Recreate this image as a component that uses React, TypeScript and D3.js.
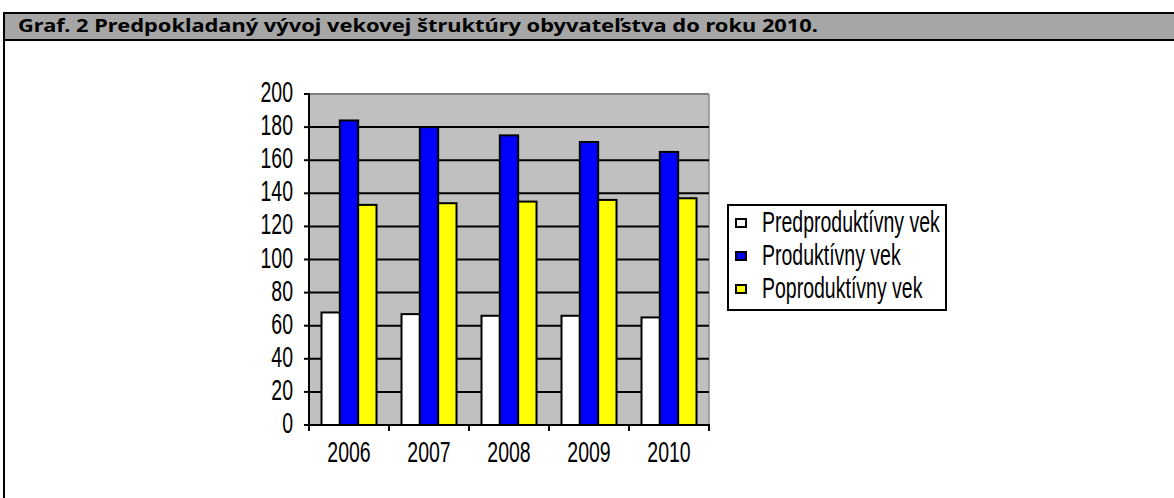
import React from 'react';
import * as d3 from 'd3';

const years = ['2006', '2007', '2008', '2009', '2010'];
const seriesNames = ['Predproduktívny vek', 'Produktívny vek', 'Poproduktívny vek'];
const seriesColors = ['#ffffff', '#0000ff', '#ffff00'];
const predproduktivny = [68, 67, 66, 66, 65];
const produktivny = [184, 180, 175, 171, 165];
const poproduktivny = [133, 134, 135, 136, 137];
const yTicks = [0, 20, 40, 60, 80, 100, 120, 140, 160, 180, 200];
const title = 'Graf. 2 Predpokladaný vývoj vekovej štruktúry obyvateľstva do roku 2010.';

const W = 1174;
const H = 498;
const plot = { left: 309, right: 709, top: 94, bottom: 425 };
const narrow = 0.65; // the original labels are horizontally squeezed

const App: React.FC = () => {
  const values = [predproduktivny, produktivny, poproduktivny];

  const x0 = d3.scaleBand<string>()
    .domain(years)
    .range([plot.left, plot.right])
    .paddingInner(0.3125)
    .paddingOuter(0.15625);

  const x1 = d3.scaleBand<number>()
    .domain([0, 1, 2])
    .range([0, x0.bandwidth()]);

  const y = d3.scaleLinear()
    .domain([0, 200])
    .range([plot.bottom, plot.top]);

  const labelFont = "'Liberation Sans', Arial, sans-serif";

  // category boundaries for the x-axis ticks
  const xTickPos = d3.range(years.length + 1).map(i => plot.left + i * x0.step());

  return (
    <svg width={W} height={H} style={{ position: 'absolute', left: 0, top: 0, background: '#fff' }}>
      {/* header bar */}
      <rect x={4} y={13} width={W} height={27} fill="#a6a6a6" />
      <line x1={3} y1={13} x2={W} y2={13} stroke="#000" strokeWidth={2} />
      <line x1={3} y1={40} x2={W} y2={40} stroke="#000" strokeWidth={2} />
      <line x1={4} y1={12} x2={4} y2={H} stroke="#000" strokeWidth={2} />
      <text
        x={18}
        y={31.5}
        fontFamily="'Noto Sans', 'DejaVu Sans', sans-serif"
        fontWeight="bold"
        fontSize={18}
        textLength={800}
        lengthAdjust="spacingAndGlyphs"
        fill="#000"
      >
        {title}
      </text>

      {/* plot area */}
      <rect x={plot.left} y={plot.top} width={plot.right - plot.left} height={plot.bottom - plot.top} fill="#c0c0c0" />
      <line x1={plot.left} y1={plot.top} x2={plot.right} y2={plot.top} stroke="#808080" strokeWidth={2} />
      <line x1={plot.right} y1={plot.top} x2={plot.right} y2={plot.bottom} stroke="#909090" strokeWidth={1.5} />

      {/* gridlines */}
      {yTicks.filter(t => t > 0 && t < 200).map(t => (
        <line key={t} x1={plot.left} x2={plot.right} y1={y(t)} y2={y(t)} stroke="#000" strokeWidth={2} />
      ))}

      {/* bars */}
      {years.map((yr, i) => (
        <g key={yr} transform={`translate(${x0(yr)},0)`}>
          {values.map((s, k) => (
            <rect
              key={k}
              x={x1(k)}
              y={y(s[i])}
              width={x1.bandwidth()}
              height={y(0) - y(s[i])}
              fill={seriesColors[k]}
              stroke="#000"
              strokeWidth={2}
            />
          ))}
        </g>
      ))}

      {/* y axis */}
      <line x1={plot.left} x2={plot.left} y1={plot.top - 1} y2={plot.bottom + 1} stroke="#000" strokeWidth={2} />
      {yTicks.map(t => (
        <g key={t}>
          <line x1={plot.left - 5} x2={plot.left} y1={y(t)} y2={y(t)} stroke="#000" strokeWidth={2} />
          <text
            transform={`translate(293,${y(t) + 8}) scale(${narrow},1)`}
            textAnchor="end"
            fontFamily={labelFont}
            fontSize={30}
            fill="#000"
          >
            {t}
          </text>
        </g>
      ))}

      {/* x axis */}
      <line x1={plot.left - 5} x2={plot.right + 1} y1={plot.bottom} y2={plot.bottom} stroke="#000" strokeWidth={2} />
      {xTickPos.map((px, i) => (
        <line key={i} x1={px} x2={px} y1={plot.bottom} y2={plot.bottom + 6} stroke="#000" strokeWidth={2} />
      ))}
      {years.map(yr => (
        <text
          key={yr}
          transform={`translate(${(x0(yr) ?? 0) + x0.bandwidth() / 2},462) scale(${narrow},1)`}
          textAnchor="middle"
          fontFamily={labelFont}
          fontSize={30}
          fill="#000"
        >
          {yr}
        </text>
      ))}

      {/* legend */}
      <rect x={728} y={205} width={218} height={105} fill="#fff" stroke="#000" strokeWidth={2} />
      {seriesNames.map((name, k) => {
        const base = 232 + k * 33;
        return (
          <g key={name}>
            <rect x={736} y={base - 13} width={10} height={8} fill={seriesColors[k]} stroke="#000" strokeWidth={2} />
            <text
              transform={`translate(762,${base}) scale(${narrow},1)`}
              fontFamily={labelFont}
              fontSize={30}
              fill="#000"
            >
              {name}
            </text>
          </g>
        );
      })}
    </svg>
  );
};

export default App;
